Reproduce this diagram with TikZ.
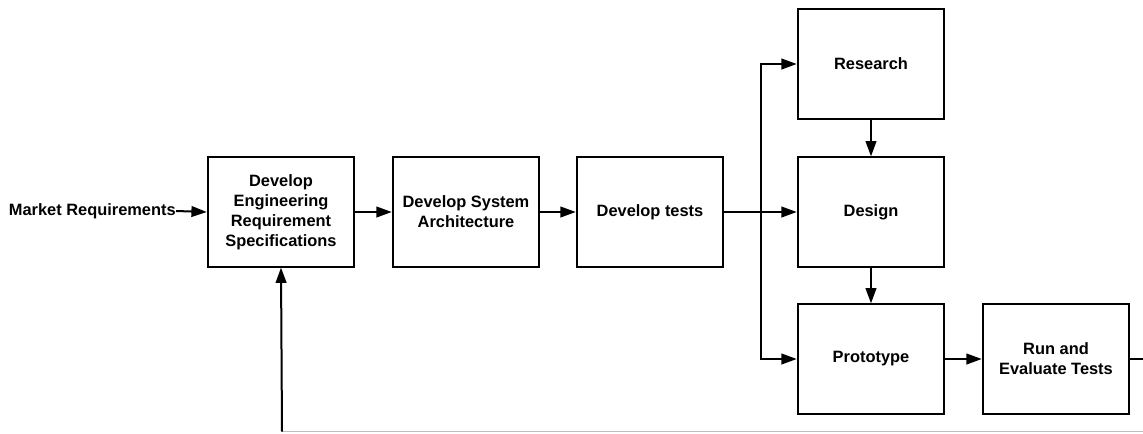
\documentclass[tikz,border=0pt]{standalone}
\usepackage{fontspec}
\setmainfont{Liberation Sans}
\usetikzlibrary{arrows.meta}
\begin{document}
\begin{tikzpicture}[x=0.75pt,y=-0.75pt,
  box/.style={draw, line width=1.4pt, minimum width=110pt, minimum height=82pt, inner sep=2pt,
    align=center, font=\bfseries\fontsize{12.3}{15}\selectfont},
  arr/.style={line width=1.5pt, -{Triangle[length=11.5pt,width=8pt]}},
  lbl/.style={font=\bfseries\fontsize{12.3}{15}\selectfont, inner sep=0pt}]
\useasboundingbox (0,0) rectangle (1143,433);
\node[lbl, anchor=east] (mr) at (176,211) {Market Requirements};
\node[box] (ers) at (281,212) {Develop\\Engineering\\Requirement\\Specifications};
\node[box] (sa) at (466,212) {Develop System\\Architecture};
\node[box] (dt) at (650,212) {Develop tests};
\node[box] (res) at (871,64) {Research};
\node[box] (des) at (871,212) {Design};
\node[box] (pro) at (871,359) {Prototype};
\node[box] (run) at (1056,359) {Run and\\Evaluate Tests};
\coordinate (bx) at (761,0);
\coordinate (fbl) at (282,431.5);
\coordinate (fbr) at (1143,431.5);
\coordinate (rend) at (1143,359);
\draw[arr] (mr.east) -- (ers.west);
\draw[arr] (ers.east) -- (sa.west);
\draw[arr] (sa.east) -- (dt.west);
\draw[arr] (dt.east) -- (des.west);
\draw[arr] (dt.east -| bx) |- (res.west);
\draw[arr] (dt.east -| bx) |- (pro.west);
\draw[arr] (res.south) -- (des.north);
\draw[arr] (des.south) -- (pro.north);
\draw[arr] (pro.east) -- (run.west);
\draw[line width=1.4pt] (run.east) -- (rend);
\draw[line width=1pt, black!25] (fbl) -- (fbr);
\draw[arr] (fbl) -- (ers.south);
\end{tikzpicture}
\end{document}
